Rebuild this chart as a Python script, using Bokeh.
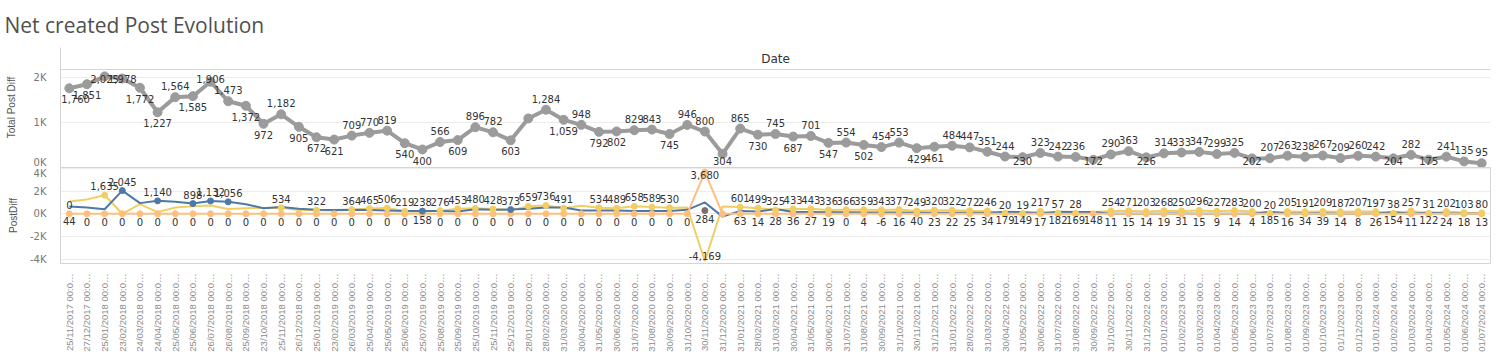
import math
from bokeh.plotting import figure
from bokeh.layouts import column
from bokeh.models import Range1d, FactorRange, FixedTicker, Span
from bokeh.embed import file_html
from bokeh.resources import INLINE
from bokeh.core.properties import value

# ---------------- data ----------------
dates = [
    "25/11/2017", "27/12/2017", "25/01/2018", "23/02/2018", "24/03/2018", "24/04/2018",
    "25/05/2018", "25/06/2018", "26/07/2018", "26/08/2018", "25/09/2018", "23/10/2018",
    "25/11/2018", "26/12/2018", "25/01/2019", "23/02/2019", "26/03/2019", "25/04/2019",
    "25/05/2019", "25/06/2019", "25/07/2019", "25/08/2019", "25/09/2019", "25/10/2019",
    "25/11/2019", "25/12/2019", "28/01/2020", "28/02/2020", "31/03/2020", "30/04/2020",
    "31/05/2020", "30/06/2020", "31/07/2020", "31/08/2020", "30/09/2020", "31/10/2020",
    "30/11/2020", "31/12/2020", "31/01/2021", "28/02/2021", "31/03/2021", "30/04/2021",
    "31/05/2021", "30/06/2021", "31/07/2021", "31/08/2021", "30/09/2021", "31/10/2021",
    "30/11/2021", "31/12/2021", "31/01/2022", "28/02/2022", "31/03/2022", "30/04/2022",
    "31/05/2022", "30/06/2022", "31/07/2022", "31/08/2022", "30/09/2022", "31/10/2022",
    "30/11/2022", "31/12/2022", "01/01/2023", "01/02/2023", "01/03/2023", "01/04/2023",
    "01/05/2023", "01/06/2023", "01/07/2023", "01/08/2023", "01/09/2023", "01/10/2023",
    "01/11/2023", "01/12/2023", "01/01/2024", "01/02/2024", "01/03/2024", "01/04/2024",
    "01/05/2024", "01/06/2024", "01/07/2024",
]
date_labels = [d + " 00:0\u2026" for d in dates]

total_post_diff = [
    1760, 1851, 2025, 1978, 1772, 1227, 1564, 1585, 1906, 1473,
    1372, 972, 1182, 905, 672, 621, 709, 770, 819, 540,
    400, 566, 609, 896, 782, 603, 1090, 1284, 1059, 948,
    792, 802, 829, 843, 745, 946, 800, 304, 865, 730,
    745, 687, 701, 547, 554, 502, 454, 553, 429, 461,
    484, 447, 351, 244, 230, 323, 242, 236, 172, 290,
    363, 226, 314, 333, 347, 299, 325, 202, 207, 263,
    238, 267, 209, 260, 242, 204, 282, 175, 241, 135, 95,
]
total_unlabeled = ["28/01/2020"]
# dates whose value label sits under the point (as in the picture)
total_label_below = [
    "25/11/2017", "27/12/2017", "24/03/2018", "24/04/2018", "25/06/2018", "25/09/2018",
    "23/10/2018", "26/12/2018", "25/01/2019", "23/02/2019", "25/06/2019", "25/07/2019",
    "25/09/2019", "25/12/2019", "31/03/2020", "31/05/2020", "30/06/2020", "30/09/2020",
    "31/12/2020", "28/02/2021", "30/04/2021", "30/06/2021", "31/08/2021", "30/11/2021",
    "31/12/2021", "31/05/2022", "30/09/2022", "31/12/2022", "01/06/2023", "01/02/2024",
    "01/04/2024",
]

yellow_series = [
    1090, 1270, 1635, 0, 850, 150, 550, 670, 730, 420,
    490, 520, 534, 330, 322, 300, 364, 465, 506, 219,
    180, 276, 453, 480, 428, 300, 659, 736, 491, 700,
    534, 489, 658, 589, 530, 550, -4169, 650, 601, 499,
    325, 433, 443, 336, 366, 359, 343, 377, 249, 320,
    322, 272, 246, 20, 19, 217, 57, 28, 160, 254,
    271, 203, 268, 250, 296, 227, 283, 200, 20, 205,
    191, 209, 187, 207, 197, 38, 257, 31, 202, 103, 80,
]

blue_series = [
    640, 550, 400, 2045, 940, 1140, 1060, 898, 1132, 1056,
    850, 490, 600, 450, 360, 330, 360, 330, 300, 250,
    238, 250, 200, 400, 350, 373, 450, 550, 550, 300,
    300, 300, 250, 250, 250, 350, 1000, -250, 250, 200,
    420, 150, 150, 130, 130, 120, 120, 110, 100, 100,
    100, 90, 80, 179, 149, 17, 182, 169, 148, 11,
    15, 14, 19, 31, 15, 9, 14, 4, 185, 16,
    34, 39, 14, 8, 26, 154, 11, 122, 24, 18, 13,
]

orange_series = [
    0, 0, 0, 0, 0, 0, 0, 0, 0, 0,
    0, 0, 0, 0, 0, 0, 0, 0, 0, 0,
    0, 0, 0, 0, 0, 0, 0, 0, 0, 0,
    0, 0, 0, 0, 0, 0, 3680, 0, 0, 0,
    0, 0, 0, 0, 0, 0, 0, 0, 0, 0,
    0, 0, 0, 0, 0, 0, 0, 0, 0, 0,
    0, 0, 0, 0, 0, 0, 0, 0, 0, 0,
    0, 0, 0, 0, 0, 0, 0, 0, 0, 0, 0,
]

grey_dates = ["30/11/2020"]
grey_values = [284]

top_labels = [
    0, None, 1635, 2045, None, 1140, None, 898, 1132, 1056,
    None, None, 534, None, 322, None, 364, 465, 506, 219,
    238, 276, 453, 480, 428, 373, 659, 736, 491, None,
    534, 489, 658, 589, 530, None, 3680, None, 601, 499,
    325, 433, 443, 336, 366, 359, 343, 377, 249, 320,
    322, 272, 246, 20, 19, 217, 57, 28, None, 254,
    271, 203, 268, 250, 296, 227, 283, 200, 20, 205,
    191, 209, 187, 207, 197, 38, 257, 31, 202, 103, 80,
]

bottom_labels = [
    44, 0, 0, 0, 0, 0, 0, 0, 0, 0,
    0, 0, 0, 0, 0, 0, 0, 0, 0, 0,
    158, 0, 0, 0, 0, 0, 0, 0, 0, 0,
    0, 0, 0, 0, 0, 0, -4169, None, 63, 14,
    28, 36, 27, 19, 0, 4, -6, 16, 40, 23,
    22, 25, 34, 179, 149, 17, 182, 169, 148, 11,
    15, 14, 19, 31, 15, 9, 14, 4, 185, 16,
    34, 39, 14, 8, 26, 154, 11, 122, 24, 18, 13,
]

# ---------------- styling ----------------
GREY_LINE = "#9b9b9b"
YELLOW = "#f1ce63"
BLUE = "#4e79a7"
ORANGE = "#ffbe7d"
DARK_GREY = "#79706e"
BORDER = "#d4d4d4"
GRID = "#ececec"
LABEL_FONT = value("DejaVu Sans")
n = len(dates)
xcat = dict(zip(dates, date_labels))

x_range = FactorRange(factors=date_labels, range_padding=0)


def style_yaxis(p, label, standoff):
    p.yaxis.axis_label = label
    p.yaxis.axis_label_text_font = "Liberation Sans"
    p.yaxis.axis_label_text_font_size = "10px"
    p.yaxis.axis_label_text_font_style = "normal"
    p.yaxis.axis_label_text_color = "#555555"
    p.yaxis.axis_label_standoff = standoff
    p.yaxis.major_label_text_font = "DejaVu Sans"
    p.yaxis.major_label_text_font_size = "10px"
    p.yaxis.major_label_text_color = "#777777"
    p.yaxis.major_label_standoff = 8
    p.yaxis.major_tick_line_color = None
    p.yaxis.minor_tick_line_color = None
    p.yaxis.axis_line_color = BORDER


# ---------------- upper pane ----------------
UP_TOP = 2667        # frame top (header band included)
UP_HEADER = 2178     # header separator
UP_PX = 1000 / 45.0  # data units per pixel
p1 = figure(x_range=x_range, y_range=Range1d(0, UP_TOP),
            frame_width=1430, frame_height=120,
            min_border_left=60, min_border_right=5, min_border_top=47, min_border_bottom=0,
            output_backend="svg", toolbar_location=None)
p1.title.text = "Net created Post Evolution"
p1.title.text_font = "Open Sans"
p1.title.text_font_size = "21px"
p1.title.text_font_style = "normal"
p1.title.text_color = "#505050"
p1.title.align = "left"
p1.title.offset = -56
p1.title.standoff = 17
p1.outline_line_color = None
p1.xaxis.visible = False
p1.xgrid.visible = False
p1.ygrid.grid_line_color = GRID
p1.yaxis.ticker = FixedTicker(ticks=[0, 1000, 2000])
p1.yaxis.major_label_overrides = {0: "0K", 1000: "1K", 2000: "2K"}
style_yaxis(p1, "Total Post Diff", 14)
p1.add_layout(Span(location=UP_HEADER, dimension="width", line_color=BORDER, line_width=1))

p1.text(x=[date_labels[n // 2]], y=[(UP_HEADER + UP_TOP) / 2], text=["Date"],
        text_font=value("DejaVu Sans"), text_font_size="12px", text_font_style="normal",
        text_color="#333333", text_align="center", text_baseline="middle")

p1.line(x=date_labels, y=total_post_diff, line_color=GREY_LINE, line_width=4)
p1.scatter(x=date_labels, y=total_post_diff, size=9, color=GREY_LINE)

off_up = 11 * UP_PX
top_clamp = 89 * UP_PX
bot_clamp = 7 * UP_PX
lx, ly, lt = [], [], []
for d, v in zip(dates, total_post_diff):
    if d in total_unlabeled:
        continue
    if d in total_label_below:
        y = max(v - off_up, bot_clamp)
    else:
        y = min(v + off_up, top_clamp)
    lx.append(xcat[d]); ly.append(y); lt.append(f"{v:,}")
# first label kept inside the pane (left aligned at the pane edge)
p1.text(x=lx[:1], y=ly[:1], text=lt[:1], x_offset=-8, text_font=LABEL_FONT, text_font_size="10px",
        text_color="#333333", text_align="left", text_baseline="middle")
p1.text(x=lx[1:], y=ly[1:], text=lt[1:], text_font=LABEL_FONT, text_font_size="10px",
        text_color="#333333", text_align="center", text_baseline="middle")

# ---------------- lower pane ----------------
LO_MIN, LO_MAX = -4380, 4080
LO_PX = 1000 / 11.35
p2 = figure(x_range=x_range, y_range=Range1d(LO_MIN, LO_MAX),
            frame_width=1430, frame_height=96,
            min_border_left=60, min_border_right=5, min_border_top=0, min_border_bottom=89,
            output_backend="svg", toolbar_location=None)
p2.outline_line_color = BORDER
p2.xgrid.visible = False
p2.ygrid.grid_line_color = GRID
p2.yaxis.ticker = FixedTicker(ticks=[-4000, -2000, 0, 2000, 4000])
p2.yaxis.major_label_overrides = {-4000: "-4K", -2000: "-2K", 0: "0K", 2000: "2K", 4000: "4K"}
style_yaxis(p2, "PostDiff", 8)

p2.xaxis.major_label_orientation = math.pi / 2
p2.xaxis.major_label_text_font = "Liberation Sans"
p2.xaxis.major_label_text_font_size = "9.5px"
p2.xaxis.major_label_text_color = "#8c8c8c"
p2.xaxis.major_label_standoff = 4
p2.xaxis.major_tick_line_color = None
p2.xaxis.axis_line_color = BORDER

p2.line(x=date_labels, y=yellow_series, line_color=YELLOW, line_width=2)
p2.line(x=date_labels, y=blue_series, line_color=BLUE, line_width=2)
p2.line(x=date_labels, y=orange_series, line_color=ORANGE, line_width=2)
p2.scatter(x=date_labels, y=orange_series, size=6, color=ORANGE)

ydx, ydy, bdx, bdy = [], [], [], []
for d, t, b, yv, bv in zip(date_labels, top_labels, bottom_labels, yellow_series, blue_series):
    if t is not None and yv == t:
        ydx.append(d); ydy.append(yv)
    elif t is not None and bv == t:
        bdx.append(d); bdy.append(bv)
    elif b is not None and bv == b and bv > yv:
        bdx.append(d); bdy.append(bv)
p2.scatter(x=ydx, y=ydy, size=6, color=YELLOW)
p2.scatter(x=bdx, y=bdy, size=6, color=BLUE)
p2.scatter(x=[xcat[d] for d in grey_dates], y=grey_values, size=6, color=DARK_GREY)

off_t = 9 * LO_PX
off_b = 8 * LO_PX
clamp_t = 39.3 * LO_PX
clamp_b = -42.7 * LO_PX
tx, ty, tt = [], [], []
for d, t in zip(date_labels, top_labels):
    if t is None:
        continue
    tx.append(d); ty.append(min(t + off_t, clamp_t)); tt.append(f"{t:,}")
for d, b in zip(date_labels, bottom_labels):
    if b is None:
        continue
    tx.append(d); ty.append(max(b - off_b, clamp_b)); tt.append(f"{b:,}")
for d, g in zip(grey_dates, grey_values):
    tx.append(xcat[d]); ty.append(max(g - off_b, clamp_b)); tt.append(f"{g:,}")
p2.text(x=tx, y=ty, text=tt, text_font=LABEL_FONT, text_font_size="10px",
        text_color="#333333", text_align="center", text_baseline="middle")

layout = column(p1, p2, spacing=0)
open("out.html", "w").write(file_html(layout, INLINE))
